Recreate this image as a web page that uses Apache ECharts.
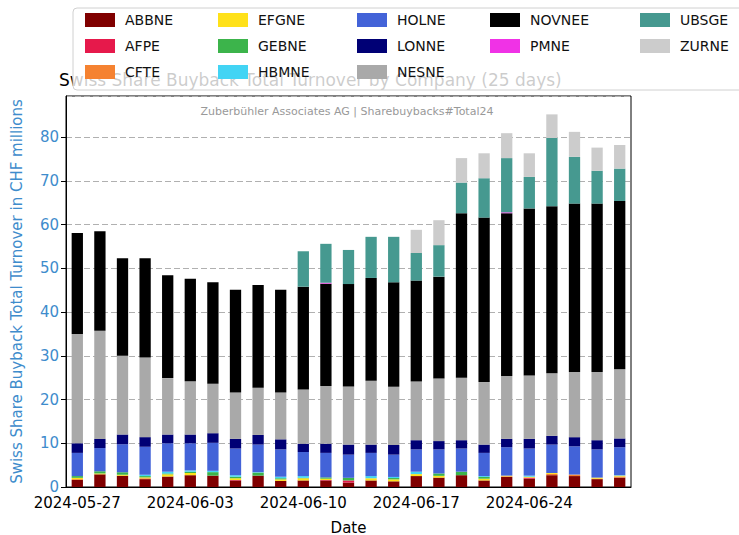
<!DOCTYPE html>
<html lang="en">
<head>
<meta charset="UTF-8">
<title>Swiss Share Buyback Total Turnover</title>
<script src="https://cdn.jsdelivr.net/npm/echarts@6/dist/echarts.min.js"></script>
<style>
  html, body { margin: 0; padding: 0; background: #fff; }
  #chart { width: 739px; height: 535px; }
</style>
</head>
<body>
<div id="chart"></div>
<script>
// trading days
var dates = ['2024-05-27','2024-05-28','2024-05-29','2024-05-30','2024-05-31',
             '2024-06-03','2024-06-04','2024-06-05','2024-06-06','2024-06-07',
             '2024-06-10','2024-06-11','2024-06-12','2024-06-13','2024-06-14',
             '2024-06-17','2024-06-18','2024-06-19','2024-06-20','2024-06-21',
             '2024-06-24','2024-06-25','2024-06-26','2024-06-27','2024-06-28'];

// turnover per company, CHF millions
var ABBNE  = [1.6,2.9,2.6,1.8,2.4,2.7,2.6,1.5,2.6,1.4,1.5,1.5,1.0,1.5,1.3,2.5,2.15,2.7,1.5,2.3,1.9,2.7,2.5,1.8,2.15];
var AFPE   = [0,0,0,0,0,0,0,0.1,0,0,0,0.1,0.5,0,0,0,0,0,0,0,0.25,0,0,0,0];
var CFTE   = [0.2,0,0,0.2,0,0,0,0,0,0,0,0,0,0,0,0,0,0,0,0.15,0,0.3,0.35,0.1,0.25];
var EFGNE  = [0.3,0.2,0.2,0.2,0.5,0.5,0,0.4,0,0.35,0.5,0.3,0,0.5,0.45,0.45,0.4,0,0.4,0.15,0.2,0.2,0,0.25,0.2];
var GEBNE  = [0.4,0.5,0.6,0.3,0.2,0.3,0.8,0.35,0.7,0.25,0.1,0.3,0.6,0,0.3,0,0.55,0.8,0.4,0,0,0,0,0,0];
var HBMNE  = [0,0,0,0.3,0.4,0.3,0.3,0.35,0.1,0.35,0.4,0,0,0.5,0.25,0.55,0,0,0.2,0,0.25,0,0,0,0.1];
var HOLNE  = [5.3,5.3,6.4,6.4,6.5,6.2,6.4,6.1,6.3,6.25,5.5,5.6,5.3,5.3,5.1,5.1,5.5,5.3,5.3,6.5,6.2,6.5,6.45,6.45,6.4];
var LONNE  = [2.2,2.1,2.2,2.2,2.0,2.0,2.2,2.2,2.2,2.3,1.9,2.1,2.3,1.9,2.2,2.1,1.9,1.9,1.9,1.9,2.2,2.0,2.1,2.1,2.0];
var NESNE  = [25.0,24.7,18.0,18.2,12.9,12.2,11.3,10.6,10.8,10.7,12.4,13.2,13.3,14.6,13.3,13.4,14.3,14.3,14.3,14.4,14.5,14.3,14.9,15.6,15.8];
var NOVNEE = [23.1,22.8,22.3,22.7,23.5,23.4,23.2,23.5,23.5,23.5,23.5,23.4,23.4,23.5,23.9,23.1,23.3,37.6,37.6,37.2,38.2,38.2,38.5,38.5,38.5];
var PMNE   = [0,0,0,0,0,0,0,0,0,0,0,0.2,0,0,0,0,0,0,0,0.2,0,0,0,0,0];
var UBSGE  = [0,0,0,0,0,0,0,0,0,0,8.1,8.9,7.8,9.4,10.4,6.3,7.2,7.0,9.0,12.4,7.2,15.6,10.7,7.5,7.4];
var ZURNE  = [0,0,0,0,0,0,0,0,0,0,0,0,0,0,0,5.3,5.7,5.6,5.7,5.7,5.4,5.4,5.7,5.3,5.4];

var companies = ['ABBNE','AFPE','CFTE','EFGNE','GEBNE','HBMNE','HOLNE','LONNE','NESNE','NOVNEE','PMNE','UBSGE','ZURNE'];
var values = [ABBNE,AFPE,CFTE,EFGNE,GEBNE,HBMNE,HOLNE,LONNE,NESNE,NOVNEE,PMNE,UBSGE,ZURNE];
var colors = ['#800000','#e6194b','#f58231','#ffe119','#3cb44b','#42d4f4','#4363d8','#000075','#a9a9a9','#000000','#f032e6','#469990','#cccccc'];

var blue = '#3e8ccc';

var series = [];
for (var i = 0; i < companies.length; i++) {
    series.push({
        name: companies[i],
        type: 'bar',
        stack: 'total',
        barWidth: '50%',
        itemStyle: { color: colors[i] },
        data: values[i]
    });
}

// legend laid out column by column, like matplotlib ncol=5
var legendCols = [
    { left: 85,  names: ['ABBNE','AFPE','CFTE'] },
    { left: 218, names: ['EFGNE','GEBNE','HBMNE'] },
    { left: 357, names: ['HOLNE','LONNE','NESNE'] },
    { left: 490, names: ['NOVNEE','PMNE'] },
    { left: 640, names: ['UBSGE','ZURNE'] }
];
var legends = legendCols.map(function (c) {
    return {
        orient: 'vertical',
        left: c.left,
        top: 13,
        z: 10,
        icon: 'rect',
        itemWidth: 30,
        itemHeight: 14,
        itemGap: 12,
        padding: 0,
        textStyle: { fontSize: 14, color: '#111', fontFamily: 'DejaVu Sans', padding: [0, 0, 0, 5] },
        data: c.names
    };
});

var chart = echarts.init(document.getElementById('chart'), null, { renderer: 'svg' });
chart.setOption({
    animation: false,
    color: colors,
    title: {
        text: 'Swiss Share Buyback Total Turnover by Company (25 days)',
        left: 59,
        top: 71,
        z: 2,
        padding: 0,
        textStyle: { fontSize: 17, fontWeight: 'normal', color: '#000', fontFamily: 'DejaVu Sans' }
    },
    legend: legends,
    graphic: [
        {
            type: 'rect',
            z: 5,
            shape: { x: 73, y: 8, width: 700, height: 82, r: 4 },
            style: { fill: 'rgba(255,255,255,0.8)', stroke: '#d0d0d0', lineWidth: 1 }
        },
        {
            type: 'text',
            z: 5,
            x: 347,
            y: 111,
            style: {
                text: 'Zuberbühler Associates AG | Sharebuybacks#Total24',
                fill: '#999999',
                font: '11px "DejaVu Sans"',
                textAlign: 'center',
                textVerticalAlign: 'middle'
            }
        }
    ],
    grid: {
        left: 66, right: 108, top: 96, bottom: 48,
        outerBoundsMode: 'none',
        containLabel: false,
        show: true, borderColor: '#000', borderWidth: 1
    },
    xAxis: {
        type: 'category',
        data: dates,
        name: 'Date',
        nameLocation: 'middle',
        nameGap: 33,
        nameMoveOverlap: false,
        nameTextStyle: { fontSize: 15, color: '#000', fontFamily: 'DejaVu Sans' },
        axisLine: { lineStyle: { color: '#000' } },
        axisTick: { interval: 4, alignWithLabel: true, length: 5, lineStyle: { color: '#000' } },
        axisLabel: { interval: 4, fontSize: 15, color: '#000', margin: 8, fontFamily: 'DejaVu Sans' }
    },
    yAxis: {
        type: 'value',
        min: 0,
        max: 89.4,
        interval: 10,
        name: 'Swiss Share Buyback Total Turnover in CHF millions',
        nameLocation: 'middle',
        nameGap: 42,
        nameMoveOverlap: false,
        nameTextStyle: { fontSize: 15, color: blue, fontFamily: 'DejaVu Sans' },
        axisLine: { show: true, lineStyle: { color: '#000' } },
        axisTick: { show: true, length: 5, lineStyle: { color: '#000' } },
        axisLabel: { fontSize: 15, color: blue, margin: 7, showMaxLabel: false, fontFamily: 'DejaVu Sans' },
        splitLine: { lineStyle: { color: '#b0b0b0', type: [6, 3] } }
    },
    series: series
});
</script>
</body>
</html>
